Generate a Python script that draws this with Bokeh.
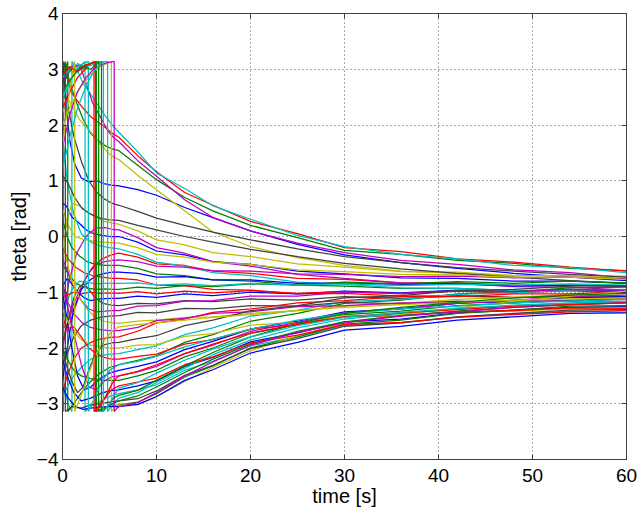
from bokeh.plotting import figure
from bokeh.models import Range1d, LinearAxis, FixedTicker
from bokeh.embed import file_html
from bokeh.resources import INLINE

# common sample times after the transient (s)
t_late = [6, 8, 10, 13, 16, 20, 25, 30, 36, 42, 48, 54, 60]

x_ticks = [0, 10, 20, 30, 40, 50, 60]
y_ticks = [-4, -3, -2, -1, 0, 1, 2, 3, 4]

# each run: (early times, early theta values, theta values at t_late)
blue_runs = [
    ([0, 0.05, 0.05, 0.4, 0.8, 1.3, 2.0, 2.8, 3.6, 4.4, 5.2], [-3.0, -3.14, 3.14, 2.3, 1.7, 1.3, 1.05, 0.98, 1.0, 0.95, 0.92],
     [0.91, 0.84, 0.74, 0.52, 0.34, 0.10, -0.14, -0.33, -0.47, -0.57, -0.66, -0.73, -0.79]),
    ([0, 0.4, 1.0, 1.7, 2.5, 3.3, 4.2, 5.1], [0.6, 0.55, 0.35, 0.25, 0.12, 0.05, 0.02, 0.0],
     [0.0, -0.10, -0.26, -0.33, -0.45, -0.50, -0.62, -0.67, -0.74, -0.75, -0.80, -0.80, -0.84]),
    ([0, 0.5, 1.2, 2.0, 2.8, 3.6, 4.5, 5.3], [-2.6, -2.0, -1.3, -0.95, -0.8, -0.7, -0.66, -0.64],
     [-0.64, -0.66, -0.73, -0.72, -0.78, -0.78, -0.84, -0.83, -0.86, -0.85, -0.89, -0.87, -0.89]),
    ([0, 0.5, 1.0, 1.6, 2.3, 3.0, 4.0, 5.0], [-0.9, -0.75, -0.85, -1.0, -1.1, -1.15, -1.12, -1.11],
     [-1.11, -1.07, -1.09, -1.03, -1.06, -1.00, -1.03, -0.98, -1.01, -0.96, -0.99, -0.95, -0.98]),
    ([0, 0.5, 1.0, 1.6, 2.3, 3.0, 4.0, 5.0], [-1.0, -1.5, -2.0, -2.5, -2.75, -2.7, -2.55, -2.45],
     [-2.40, -2.33, -2.25, -2.03, -1.88, -1.66, -1.52, -1.35, -1.30, -1.20, -1.16, -1.10, -1.08]),
    ([0, 0.5, 1.2, 2.0, 3.0, 4.0, 5.0], [-2.2, -2.5, -2.8, -2.95, -2.9, -2.82, -2.77],
     [-2.75, -2.68, -2.59, -2.33, -2.17, -1.89, -1.73, -1.53, -1.48, -1.37, -1.32, -1.27, -1.26]),
    ([0, 0.6, 1.4, 2.2, 3.0, 4.0, 5.0], [-2.7, -2.9, -3.05, -3.1, -3.08, -3.06, -3.05],
     [-3.05, -3.01, -2.87, -2.58, -2.39, -2.09, -1.90, -1.68, -1.61, -1.50, -1.44, -1.38, -1.37]),
]

green_runs = [
    ([0, 0.3, 0.8, 1.5, 2.2, 3.0, 3.8, 4.6, 5.3], [3.05, 3.1, 2.75, 2.4, 2.1, 1.85, 1.72, 1.62, 1.57],
     [1.54, 1.28, 1.02, 0.70, 0.46, 0.20, -0.02, -0.25, -0.32, -0.43, -0.48, -0.57, -0.61]),
    ([0, 0.5, 1.0, 1.8, 2.6, 3.5, 4.5, 5.3], [0.3, 0.0, -0.2, -0.35, -0.45, -0.5, -0.52, -0.52],
     [-0.52, -0.57, -0.67, -0.70, -0.78, -0.80, -0.87, -0.89, -0.93, -0.93, -0.97, -0.96, -0.99]),
    ([0, 0.7, 1.5, 2.5, 3.5, 4.5, 5.3], [-0.5, -0.7, -0.85, -0.92, -0.95, -0.94, -0.95],
     [-0.95, -0.91, -0.93, -0.88, -0.90, -0.85, -0.87, -0.82, -0.85, -0.81, -0.84, -0.80, -0.83]),
    ([0, 0.3, 0.56, 0.56, 1.2, 2.0, 3.0, 4.0, 5.0], [2.8, 3.0, 3.14, -3.14, -3.0, -2.8, -2.6, -2.45, -2.35],
     [-2.30, -2.22, -2.14, -1.90, -1.76, -1.52, -1.38, -1.20, -1.14, -1.03, -0.99, -0.92, -0.91]),
    ([0, 0.5, 1.2, 2.0, 3.0, 4.0, 5.0], [-2.0, -2.2, -2.4, -2.5, -2.55, -2.57, -2.58],
     [-2.58, -2.50, -2.40, -2.16, -2.00, -1.74, -1.58, -1.40, -1.34, -1.24, -1.19, -1.14, -1.12]),
    ([0, 0.7, 1.5, 2.3, 3.0, 3.6, 3.6, 4.2, 5.0], [2.7, 2.95, 3.08, 3.02, 3.1, 3.14, -3.14, -3.08, -3.04],
     [-3.02, -2.97, -2.82, -2.52, -2.32, -2.00, -1.80, -1.57, -1.50, -1.38, -1.32, -1.25, -1.24]),
    ([0, 0.5, 1.2, 2.0, 2.8, 3.4, 3.85, 3.85, 4.5, 5.3], [3.1, 3.05, 2.95, 3.0, 3.1, 3.12, 3.14, -3.14, -3.08, -3.0],
     [-2.95, -2.86, -2.70, -2.44, -2.20, -1.93, -1.70, -1.53, -1.42, -1.34, -1.27, -1.22, -1.19]),
    ([0, 1.0, 2.0, 3.0, 3.7, 4.15, 4.15, 4.8, 5.4], [2.6, 2.85, 3.05, 3.0, 3.1, 3.14, -3.14, -3.05, -2.9],
     [-2.85, -2.76, -2.58, -2.32, -2.08, -1.80, -1.56, -1.38, -1.27, -1.18, -1.10, -1.05, -1.02]),
]

red_runs = [
    ([0, 0.02, 0.02, 0.4, 0.9, 1.5, 2.2, 3.0, 3.8, 4.6, 5.3], [-3.05, -3.14, 3.14, 2.95, 2.6, 2.45, 2.3, 2.15, 2.05, 1.95, 1.85],
     [1.78, 1.45, 1.16, 0.79, 0.56, 0.27, 0.05, -0.20, -0.27, -0.40, -0.46, -0.55, -0.62]),
    ([0, 0.3, 0.8, 1.5, 2.3, 3.2, 4.2, 5.2], [-1.4, -1.6, -1.55, -1.2, -0.8, -0.55, -0.4, -0.33],
     [-0.30, -0.37, -0.49, -0.52, -0.62, -0.66, -0.75, -0.77, -0.83, -0.83, -0.87, -0.87, -0.90]),
    ([0, 0.6, 1.4, 2.3, 3.2, 4.2, 5.2], [-0.2, -0.4, -0.55, -0.65, -0.7, -0.73, -0.75],
     [-0.75, -0.78, -0.87, -0.88, -0.95, -0.96, -1.03, -1.02, -1.07, -1.06, -1.09, -1.08, -1.11]),
    ([0, 0.5, 1.2, 2.0, 3.0, 4.0, 5.0], [-0.95, -1.05, -1.0, -1.03, -1.0, -1.02, -1.01],
     [-1.02, -0.99, -1.03, -0.98, -1.01, -0.97, -1.02, -0.99, -1.03, -0.98, -1.01, -0.97, -1.00]),
    ([0, 0.5, 1.2, 2.0, 3.0, 4.0, 5.0], [-2.8, -2.5, -2.2, -2.0, -1.9, -1.84, -1.81],
     [-1.80, -1.70, -1.55, -1.48, -1.36, -1.30, -1.19, -1.15, -1.08, -1.08, -1.03, -1.03, -0.99]),
    ([0, 0.5, 1.2, 2.0, 2.8, 3.6, 4.4, 5.2], [-1.6, -1.65, -1.62, -1.8, -2.0, -2.1, -2.17, -2.2],
     [-2.20, -2.15, -2.11, -1.93, -1.85, -1.66, -1.58, -1.44, -1.42, -1.35, -1.33, -1.28, -1.29]),
    ([0, 0.8, 1.6, 2.4, 3.0, 3.35, 3.35, 3.8, 4.5, 5.2], [2.3, 2.6, 2.85, 3.0, 3.1, 3.14, -3.14, -3.05, -2.9, -2.75],
     [-2.68, -2.61, -2.54, -2.30, -2.16, -1.91, -1.77, -1.58, -1.54, -1.45, -1.40, -1.35, -1.33]),
    ([0, 0.8, 1.6, 2.4, 3.0, 3.5, 3.5, 4.1, 4.8, 5.4], [2.9, 3.05, 2.95, 3.08, 3.1, 3.14, -3.14, -3.02, -2.8, -2.6],
     [-2.50, -2.42, -2.30, -2.10, -1.93, -1.73, -1.57, -1.44, -1.37, -1.31, -1.25, -1.22, -1.19]),
]

cyan_runs = [
    ([0, 0.3, 0.6, 1.0, 1.0, 1.5, 2.2, 3.0, 3.8, 4.6, 5.3], [-2.5, -2.8, -3.0, -3.14, 3.14, 3.0, 2.75, 2.55, 2.35, 2.15, 2.0],
     [1.87, 1.52, 1.14, 0.86, 0.55, 0.31, 0.02, -0.18, -0.32, -0.40, -0.52, -0.56, -0.65]),
    ([0, 0.5, 1.2, 2.0, 3.0, 4.0, 5.0], [1.8, 1.0, 0.4, 0.05, -0.1, -0.17, -0.2],
     [-0.22, -0.32, -0.46, -0.53, -0.65, -0.70, -0.82, -0.86, -0.92, -0.93, -0.97, -0.97, -1.02]),
    ([0, 0.4, 1.0, 1.8, 2.6, 3.5, 4.5, 5.3], [-1.6, -1.2, -0.95, -0.8, -0.82, -0.85, -0.84, -0.84],
     [-0.84, -0.83, -0.87, -0.85, -0.88, -0.84, -0.87, -0.85, -0.88, -0.86, -0.87, -0.85, -0.87]),
    ([0, 0.5, 1.2, 2.0, 3.0, 4.0, 5.0], [-2.9, -2.7, -2.5, -2.35, -2.2, -2.14, -2.11],
     [-2.10, -2.03, -1.96, -1.76, -1.64, -1.43, -1.32, -1.17, -1.13, -1.04, -1.01, -0.96, -0.95]),
    ([0, 0.6, 1.3, 2.0, 2.4, 2.4, 3.0, 3.8, 4.6, 5.3], [2.4, 2.7, 2.95, 3.08, 3.14, -3.14, -3.05, -2.98, -2.9, -2.85],
     [-2.82, -2.75, -2.66, -2.40, -2.24, -1.96, -1.80, -1.60, -1.55, -1.44, -1.39, -1.34, -1.36]),
    ([0, 0.8, 1.6, 2.4, 3.2, 4.0, 4.8, 4.8, 5.4], [2.85, 3.0, 3.1, 3.05, 3.08, 3.12, 3.14, -3.14, -3.0],
     [-2.90, -2.80, -2.62, -2.36, -2.12, -1.86, -1.64, -1.48, -1.38, -1.30, -1.24, -1.20, -1.17]),
    ([0, 0.8, 1.6, 2.2, 2.75, 2.75, 3.4, 4.2, 5.0], [2.5, 2.8, 3.0, 3.1, 3.14, -3.14, -2.9, -2.6, -2.4],
     [-2.30, -2.24, -2.15, -1.98, -1.84, -1.66, -1.50, -1.38, -1.30, -1.25, -1.19, -1.16, -1.13]),
    ([0, 0.8, 1.6, 2.5, 3.3, 3.9, 4.35, 4.35, 5.0, 5.5], [1.2, 1.8, 2.3, 2.7, 2.95, 3.08, 3.14, -3.14, -3.0, -2.85],
     [-2.72, -2.62, -2.45, -2.22, -2.02, -1.80, -1.60, -1.45, -1.36, -1.29, -1.23, -1.19, -1.16]),
]

magenta_runs = [
    ([0, 0.5, 1.2, 2.0, 2.6, 3.2, 4.0, 4.8, 5.4], [2.7, 2.95, 3.08, 3.0, 2.7, 2.4, 2.15, 1.9, 1.78],
     [1.70, 1.36, 1.08, 0.66, 0.34, 0.10, -0.12, -0.29, -0.43, -0.50, -0.60, -0.65, -0.74]),
    ([0, 0.7, 1.5, 2.5, 3.5, 4.5, 5.3], [-1.5, -0.8, -0.3, 0.0, 0.15, 0.16, 0.13],
     [0.12, -0.02, -0.20, -0.30, -0.45, -0.53, -0.68, -0.75, -0.83, -0.84, -0.90, -0.91, -0.96]),
    ([0, 0.5, 1.2, 2.0, 2.8, 3.6, 4.5, 5.3], [-2.0, -1.6, -1.2, -0.9, -0.65, -0.5, -0.45, -0.43],
     [-0.42, -0.45, -0.53, -0.55, -0.61, -0.62, -0.67, -0.68, -0.72, -0.71, -0.74, -0.73, -0.76]),
    ([0, 0.5, 1.2, 2.0, 2.8, 3.6, 4.5, 5.3], [-0.4, -0.6, -0.9, -1.15, -1.3, -1.35, -1.34, -1.33],
     [-1.33, -1.25, -1.24, -1.16, -1.15, -1.07, -1.07, -1.00, -1.02, -0.97, -0.99, -0.95, -0.96]),
    ([0, 0.6, 1.3, 2.1, 3.0, 4.0, 5.0], [-1.0, -1.2, -1.4, -1.55, -1.63, -1.67, -1.69],
     [-1.69, -1.63, -1.51, -1.47, -1.38, -1.35, -1.26, -1.24, -1.19, -1.19, -1.15, -1.16, -1.12]),
    ([0, 0.6, 1.3, 2.0, 2.8, 3.6, 4.4, 5.2], [-0.8, -1.3, -1.8, -2.3, -2.7, -2.75, -2.6, -2.52],
     [-2.50, -2.43, -2.33, -2.10, -1.95, -1.70, -1.54, -1.37, -1.30, -1.20, -1.14, -1.08, -1.05]),
    ([0, 0.8, 1.6, 2.5, 3.3, 4.0, 4.8, 5.5, 5.5, 5.8], [1.6, 2.2, 2.6, 2.85, 3.0, 3.08, 3.12, 3.14, -3.14, -3.08],
     [-3.05, -2.98, -2.80, -2.50, -2.25, -1.95, -1.72, -1.55, -1.43, -1.35, -1.27, -1.22, -1.18]),
]

yellow_runs = [
    ([0, 0.5, 1.0, 1.8, 2.6, 3.4, 4.2, 5.0, 5.5], [2.2, 2.5, 2.35, 2.1, 1.95, 1.8, 1.62, 1.48, 1.42],
     [1.38, 1.10, 0.84, 0.46, 0.08, -0.18, -0.38, -0.52, -0.62, -0.66, -0.70, -0.70, -0.71]),
    ([0, 0.5, 1.0, 1.8, 2.6, 3.5, 4.5, 5.3], [-0.3, 0.3, 0.6, 0.55, 0.45, 0.35, 0.27, 0.24],
     [0.22, 0.10, -0.06, -0.15, -0.29, -0.36, -0.49, -0.55, -0.63, -0.64, -0.70, -0.70, -0.75]),
    ([0, 0.6, 1.3, 2.2, 3.2, 4.2, 5.2], [0.5, 0.2, 0.0, -0.05, -0.08, -0.1, -0.11],
     [-0.12, -0.20, -0.32, -0.37, -0.46, -0.50, -0.60, -0.63, -0.68, -0.69, -0.73, -0.73, -0.77]),
    ([0, 0.4, 1.0, 1.8, 2.6, 3.5, 4.5, 5.3], [0.0, -0.4, -0.8, -1.1, -1.3, -1.45, -1.52, -1.55],
     [-1.56, -1.52, -1.50, -1.45, -1.44, -1.38, -1.33, -1.25, -1.20, -1.13, -1.09, -1.04, -1.02]),
    ([0, 0.5, 1.2, 2.0, 3.0, 4.0, 5.0], [-1.3, -1.5, -1.7, -1.85, -1.95, -1.98, -2.0],
     [-2.00, -1.95, -1.94, -1.79, -1.74, -1.59, -1.54, -1.42, -1.41, -1.35, -1.34, -1.30, -1.31]),
    ([0, 1.0, 2.0, 3.0, 4.0, 4.7, 5.2, 5.2, 5.6], [2.0, 2.4, 2.7, 2.9, 3.05, 3.1, 3.14, -3.14, -3.05],
     [-3.00, -3.02, -2.88, -2.60, -2.35, -2.05, -1.78, -1.55, -1.40, -1.28, -1.16, -1.07, -0.98]),
    ([0, 0.5, 1.0, 1.3, 1.3, 2.0, 2.8, 3.6, 4.5, 5.3], [1.6, 2.3, 2.9, 3.14, -3.14, -2.85, -2.45, -2.1, -1.85, -1.7],
     [-1.62, -1.58, -1.55, -1.50, -1.45, -1.40, -1.33, -1.27, -1.22, -1.18, -1.14, -1.12, -1.10]),
]

gray_runs = [
    ([0, 0.5, 1.2, 2.0, 2.8, 3.6, 4.4, 5.2], [2.9, 2.4, 1.8, 1.35, 1.0, 0.8, 0.68, 0.6],
     [0.56, 0.45, 0.33, 0.20, 0.08, -0.06, -0.22, -0.36, -0.47, -0.56, -0.62, -0.68, -0.73]),
    ([0, 0.6, 1.3, 2.1, 3.0, 4.0, 5.0], [1.1, 0.95, 0.7, 0.5, 0.4, 0.33, 0.3],
     [0.29, 0.20, 0.12, 0.0, -0.10, -0.23, -0.36, -0.48, -0.58, -0.66, -0.73, -0.79, -0.84]),
    ([0, 0.6, 1.2, 1.8, 2.3, 2.8, 3.5, 4.3, 5.2], [-1.9, -1.5, -1.1, -0.9, -0.85, -0.95, -1.1, -1.2, -1.23],
     [-1.24, -1.20, -1.21, -1.15, -1.17, -1.12, -1.14, -1.08, -1.11, -1.07, -1.10, -1.06, -1.08]),
    ([0, 0.5, 1.2, 2.0, 3.0, 4.0, 5.0], [-2.3, -2.1, -1.8, -1.6, -1.5, -1.45, -1.43],
     [-1.42, -1.36, -1.37, -1.29, -1.30, -1.24, -1.25, -1.18, -1.21, -1.16, -1.19, -1.15, -1.17]),
    ([0, 0.4, 1.0, 1.6, 2.2, 2.8, 3.5, 4.3, 5.2], [-2.0, -2.3, -2.6, -2.8, -2.7, -2.4, -2.1, -1.95, -1.91],
     [-1.90, -1.83, -1.78, -1.60, -1.50, -1.33, -1.24, -1.10, -1.06, -0.97, -0.95, -0.89, -0.88]),
    ([0, 0.3, 0.3, 1.0, 2.0, 3.0, 4.0, 5.0], [2.95, 3.14, -3.14, -3.05, -3.08, -3.02, -3.0, -2.97],
     [-2.95, -2.91, -2.77, -2.49, -2.31, -2.01, -1.83, -1.61, -1.55, -1.44, -1.38, -1.32, -1.31]),
]

groups = [
    (blue_runs, "#0000FF"),
    (green_runs, "#008000"),
    (red_runs, "#FF0000"),
    (cyan_runs, "#00BFBF"),
    (magenta_runs, "#BF00BF"),
    (yellow_runs, "#BFBF00"),
    (gray_runs, "#404040"),
]

FONT = "Liberation Sans"
AXC = "#404040"

p = figure(width=640, height=511,
           x_range=Range1d(0, 60), y_range=Range1d(-4, 4),
           output_backend="svg", toolbar_location=None,
           min_border_left=62, min_border_top=13, min_border_right=14, min_border_bottom=52)
p.background_fill_color = "white"
p.border_fill_color = "white"
p.outline_line_color = AXC

# draw runs interleaved like MATLAB color order
max_len = max(len(g[0]) for g in groups)
for i in range(max_len):
    for runs, col in groups:
        if i < len(runs):
            et, ev, lv = runs[i]
            p.line(list(et) + t_late, list(ev) + lv, line_color=col, line_width=1.25)

def fmt(v):
    return ("\u2212" + str(abs(v))) if v < 0 else str(v)

for ax, ticks in ((p.xaxis[0], x_ticks), (p.yaxis[0], y_ticks)):
    ax.ticker = FixedTicker(ticks=ticks, minor_ticks=[])
    ax.major_label_overrides = {t: fmt(t) for t in ticks}
    ax.major_tick_in = 5
    ax.major_tick_out = 0
    ax.minor_tick_line_color = None
    ax.axis_line_color = AXC
    ax.major_tick_line_color = AXC
    ax.major_label_text_font = FONT
    ax.major_label_text_font_size = "19px"
    ax.major_label_text_color = "black"
    ax.axis_label_text_font = FONT
    ax.axis_label_text_font_size = "20px"
    ax.axis_label_text_font_style = "normal"
    ax.axis_label_text_color = "black"

p.xaxis.axis_label = "time [s]"
p.yaxis.axis_label = "theta [rad]"
p.xaxis.major_label_standoff = 9
p.xaxis.axis_label_standoff = 0
p.yaxis.major_label_standoff = 4
p.yaxis.axis_label_standoff = 4

p.add_layout(LinearAxis(ticker=FixedTicker(ticks=x_ticks, minor_ticks=[]),
                        major_label_overrides={t: "" for t in x_ticks},
                        major_label_orientation="vertical",
                        major_label_standoff=0, major_tick_in=5, major_tick_out=0,
                        axis_line_color=AXC, major_tick_line_color=AXC,
                        minor_tick_line_color=None), "above")
p.add_layout(LinearAxis(ticker=FixedTicker(ticks=y_ticks, minor_ticks=[]),
                        major_label_overrides={t: "" for t in y_ticks},
                        major_label_standoff=0, major_tick_in=5, major_tick_out=0,
                        axis_line_color=AXC, major_tick_line_color=AXC,
                        minor_tick_line_color=None), "right")

p.xgrid.ticker = FixedTicker(ticks=x_ticks)
p.ygrid.ticker = FixedTicker(ticks=y_ticks)
p.grid.grid_line_color = "#555555"
p.grid.grid_line_dash = "1 3"
p.grid.grid_line_width = 1

open("out.html", "w").write(file_html(p, INLINE))
